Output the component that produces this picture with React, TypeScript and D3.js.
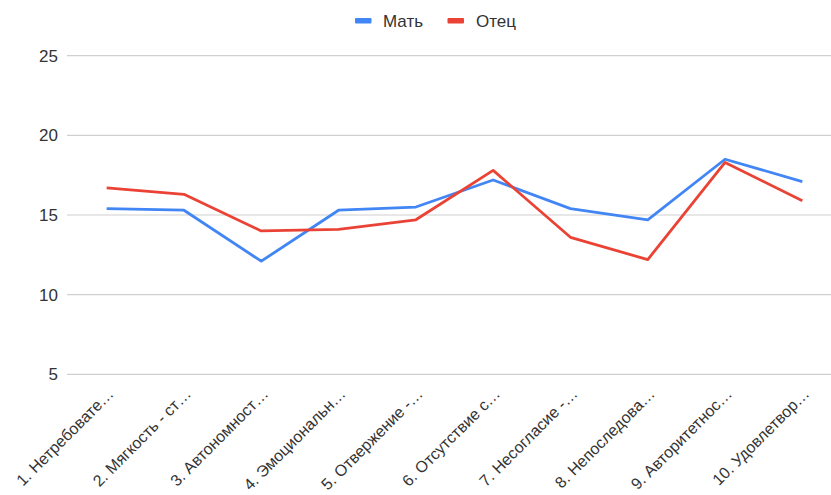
import React, { useEffect, useRef } from "react";
import * as d3 from "d3";

const categories = [
  "1. Нетребовате…",
  "2. Мягкость - ст…",
  "3. Автономност…",
  "4. Эмоциональн…",
  "5. Отвержение -…",
  "6. Отсутствие с…",
  "7. Несогласие -…",
  "8. Непоследова…",
  "9. Авторитетнос…",
  "10. Удовлетвор…",
];
const motherValues = [15.4, 15.3, 12.1, 15.3, 15.5, 17.2, 15.4, 14.7, 18.5, 17.1];
const fatherValues = [16.7, 16.3, 14.0, 14.1, 14.7, 17.8, 13.6, 12.2, 18.3, 15.9];
const yTicks = [5, 10, 15, 20, 25];
const seriesNames = ["Мать", "Отец"];
const seriesColors = ["#4285F4", "#EA4335"];

const W = 831;
const H = 495;
const FONT = "Arial, 'Liberation Sans', sans-serif";
const FS = 17;
const XFS = 16;

export default function App() {
  const ref = useRef<SVGSVGElement>(null);
  useEffect(() => {
    const svg = d3.select(ref.current);
    svg.selectAll("*").remove();
    const x = d3.scaleBand<string>().domain(categories).range([68, 841]);
    const y = d3.scaleLinear().domain([5, 25]).range([374.3, 55.7]);
    const cx = (c: string) => (x(c) as number) + x.bandwidth() / 2;

    const grid = svg.append("g");
    yTicks.forEach((t) => {
      grid
        .append("line")
        .attr("x1", 67)
        .attr("x2", W)
        .attr("y1", y(t))
        .attr("y2", y(t))
        .attr("stroke", "#d0d0d0")
        .attr("stroke-width", 1.2);
      grid
        .append("text")
        .attr("x", 58)
        .attr("y", y(t))
        .attr("dy", "0.36em")
        .attr("text-anchor", "end")
        .attr("font-family", FONT)
        .attr("font-size", FS)
        .attr("fill", "#333")
        .text(String(t));
    });

    const series = [motherValues, fatherValues];
    series.forEach((vals, si) => {
      const line = d3
        .line<number>()
        .x((_, i) => cx(categories[i]))
        .y((v) => y(v));
      svg
        .append("path")
        .attr("d", line(vals) as string)
        .attr("fill", "none")
        .attr("stroke", seriesColors[si])
        .attr("stroke-width", 2.8)
        .attr("stroke-linejoin", "round");
    });

    const xl = svg.append("g");
    categories.forEach((c) => {
      const px = cx(c) + 8;
      const py = 395;
      xl.append("text")
        .attr("transform", `translate(${px},${py}) rotate(-45)`)
        .attr("text-anchor", "end")
        .attr("font-family", FONT)
        .attr("font-size", XFS)
        .attr("fill", "#333")
        .text(c);
    });

    const legend = svg.append("g");
    const items = [
      { x: 355, tx: 383 },
      { x: 447.5, tx: 476 },
    ];
    items.forEach((it, i) => {
      legend
        .append("rect")
        .attr("x", it.x)
        .attr("y", 18)
        .attr("width", 16.5)
        .attr("height", 5.5)
        .attr("rx", 1)
        .attr("fill", seriesColors[i]);
      legend
        .append("text")
        .attr("x", it.tx)
        .attr("y", 20.5)
        .attr("dy", "0.36em")
        .attr("font-family", FONT)
        .attr("font-size", FS)
        .attr("fill", "#333")
        .text(seriesNames[i]);
    });
  }, []);
  return (
    <svg
      ref={ref}
      width={W}
      height={H}
      style={{ position: "absolute", left: 0, top: 0, background: "#fff" }}
    />
  );
}
